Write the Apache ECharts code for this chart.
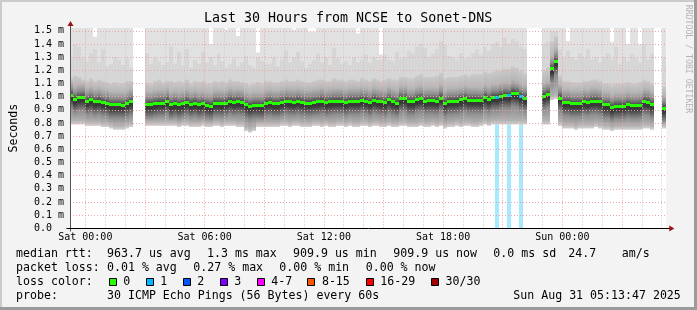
<!DOCTYPE html>
<html><head><meta charset="utf-8">
<script src="https://cdn.jsdelivr.net/npm/echarts@6/dist/echarts.min.js"></script>
<style>html,body{margin:0;padding:0;background:#f3f3f3;}#c{width:697px;height:310px;}</style>
</head><body><div id="c"></div>
<script>
// ---- data (hours relative to Sat 00:00; 12-minute buckets) ----
const FIRST_HOUR = -0.8, STEP_HOUR = 0.2;
const X_MIN = -0.7705, X_MAX = 29.2295, Y_MAX = 1.522;

const median = [
1.011,0.980,0.992,0.995,0.965,0.975,0.960,0.967,0.955,0.950,
0.937,0.937,0.937,0.935,0.945,0.960,null,null,null,0.940,
0.940,0.947,0.952,0.952,0.965,0.937,0.947,0.937,0.945,0.957,
0.942,0.950,0.939,0.945,0.935,0.929,0.950,0.950,0.947,0.952,
0.965,0.957,0.962,0.957,0.937,0.927,0.935,0.935,0.932,0.952,
0.955,0.947,0.947,0.957,0.965,0.960,0.957,0.965,0.957,0.952,
0.952,0.957,0.960,0.967,0.955,0.960,0.965,0.965,0.965,0.955,
0.965,0.965,0.965,0.973,0.967,0.955,0.973,0.965,0.960,0.955,
0.975,0.960,0.952,0.983,0.983,0.962,0.962,0.978,0.983,0.967,
0.970,0.970,0.967,0.990,0.950,0.965,0.965,0.967,0.975,0.983,
0.973,0.973,0.973,0.970,0.992,0.978,0.995,0.995,1.005,1.011,
1.008,1.028,1.021,1.000,0.988,null,null,null,null,1.005,
1.018,1.211,1.266,0.990,0.955,0.955,0.947,0.947,0.947,0.960,
0.955,0.965,0.967,0.960,0.937,0.937,0.917,0.929,0.929,0.929,
0.939,0.932,0.932,0.935,0.962,0.957,0.939,null,null,0.912];

// highest ping per bucket (1.6 = above the visible range)
const smokeMax = [
1.6,1.6,1.6,1.6,1.6,1.6,1.456,1.6,1.6,1.6,
1.6,1.6,1.6,1.6,1.6,1.6,null,null,null,1.6,
1.6,1.6,1.6,1.6,1.6,1.6,1.6,1.6,1.6,1.6,
1.6,1.6,1.6,1.6,1.6,1.40,1.6,1.6,1.6,1.51,
1.6,1.6,1.462,1.6,1.6,1.6,1.6,1.336,1.6,1.6,
1.6,1.6,1.6,1.6,1.6,1.6,1.51,1.6,1.6,1.6,
1.494,1.494,1.6,1.6,1.6,1.6,1.6,1.6,1.6,1.6,
1.6,1.6,1.48,1.6,1.6,1.6,1.6,1.6,1.32,1.6,
1.6,1.6,1.6,1.6,1.6,1.6,1.6,1.6,1.6,1.6,
1.6,1.6,1.6,1.6,1.6,1.6,1.6,1.6,1.6,1.6,
1.6,1.6,1.6,1.6,1.6,1.6,1.6,1.6,1.6,1.6,
1.6,1.6,1.6,1.6,1.6,null,null,null,null,1.6,
1.6,1.6,1.6,1.6,1.6,1.423,1.6,1.6,1.6,1.6,
1.6,1.6,1.6,1.6,1.6,1.6,1.418,1.6,1.6,1.6,
1.40,1.6,1.6,1.40,1.6,1.6,1.6,null,null,1.6];

// upper edge of the second-lightest smoke band
const smokeHi2 = [
1.30,1.40,1.38,1.30,1.27,1.33,1.36,1.26,1.36,1.23,
1.25,1.30,1.28,1.24,1.29,1.22,null,null,null,1.33,
1.25,1.30,1.27,1.24,1.26,1.38,1.25,1.34,1.24,1.36,
1.22,1.28,1.25,1.34,1.26,1.30,1.24,1.33,1.27,1.22,
1.25,1.29,1.23,1.26,1.31,1.24,1.22,1.30,1.27,1.25,
1.25,1.30,1.23,1.28,1.35,1.26,1.30,1.34,1.27,1.22,
1.25,1.28,1.33,1.26,1.30,1.24,1.37,1.29,1.25,1.27,
1.24,1.30,1.26,1.28,1.32,1.26,1.30,1.28,1.28,1.32,
1.28,1.27,1.34,1.29,1.30,1.35,1.33,1.38,1.40,1.37,
1.30,1.33,1.36,1.42,1.39,1.31,1.30,1.28,1.33,1.29,
1.30,1.33,1.36,1.32,1.38,1.35,1.40,1.42,1.38,1.45,
1.40,1.44,1.42,1.38,1.36,null,null,null,null,1.40,
1.42,1.50,1.50,1.36,1.30,1.35,1.30,1.28,1.33,1.30,
1.36,1.28,1.30,1.26,1.30,1.33,1.28,1.38,1.25,1.30,
1.27,1.32,1.29,1.26,1.40,1.28,1.33,null,null,1.30];

// upper edge of the dense (graded) smoke
const smokeHi1 = [
1.14,1.16,1.15,1.13,1.12,1.14,1.12,1.13,1.12,1.11,
1.10,1.11,1.10,1.10,1.12,1.12,null,null,null,1.11,
1.10,1.12,1.13,1.11,1.12,1.12,1.11,1.12,1.11,1.13,
1.10,1.12,1.11,1.12,1.10,1.10,1.12,1.11,1.12,1.11,
1.13,1.12,1.12,1.11,1.10,1.09,1.10,1.11,1.10,1.12,
1.12,1.11,1.11,1.12,1.13,1.12,1.12,1.13,1.12,1.11,
1.11,1.12,1.13,1.13,1.12,1.12,1.14,1.13,1.13,1.12,
1.13,1.13,1.12,1.14,1.13,1.12,1.14,1.13,1.12,1.13,
1.14,1.13,1.13,1.15,1.15,1.14,1.14,1.16,1.17,1.15,
1.15,1.15,1.16,1.18,1.14,1.15,1.15,1.15,1.16,1.17,
1.16,1.17,1.17,1.17,1.19,1.18,1.19,1.20,1.20,1.21,
1.21,1.23,1.22,1.20,1.18,null,null,null,null,1.20,
1.22,1.42,1.46,1.16,1.12,1.12,1.11,1.11,1.11,1.12,
1.12,1.13,1.13,1.12,1.10,1.10,1.09,1.10,1.10,1.10,
1.11,1.10,1.10,1.11,1.13,1.12,1.10,null,null,1.08];

// lowest ping per bucket
const smokeMin = [
0.79,0.79,0.79,0.79,0.78,0.78,0.78,0.78,0.77,0.77,
0.76,0.75,0.75,0.75,0.76,0.77,null,null,null,0.78,
0.78,0.78,0.78,0.78,0.78,0.78,0.78,0.77,0.78,0.78,
0.77,0.77,0.77,0.78,0.77,0.77,0.78,0.78,0.77,0.78,
0.78,0.78,0.77,0.77,0.74,0.73,0.74,0.77,0.77,0.77,
0.77,0.77,0.77,0.78,0.78,0.77,0.78,0.78,0.77,0.77,
0.77,0.78,0.78,0.77,0.78,0.77,0.77,0.78,0.78,0.77,
0.78,0.77,0.77,0.78,0.78,0.77,0.78,0.78,0.77,0.77,
0.78,0.77,0.77,0.78,0.78,0.77,0.77,0.77,0.78,0.77,
0.77,0.78,0.77,0.78,0.76,0.77,0.77,0.78,0.77,0.78,
0.78,0.77,0.77,0.78,0.79,0.78,0.79,0.79,0.79,0.79,
0.79,0.79,0.79,0.79,0.79,null,null,null,null,0.79,
0.79,0.975,0.985,0.78,0.76,0.76,0.76,0.75,0.76,0.76,
0.76,0.76,0.77,0.76,0.75,0.75,0.74,0.75,0.75,0.75,
0.75,0.75,0.75,0.75,0.76,0.76,0.75,null,null,0.76];

const lossBuckets = [107, 110, 113];
const lossCounts = [1, 1, 1];
const LOSS_BAR_TOP = 0.8;

const yTicks = [0,0.1,0.2,0.3,0.4,0.5,0.6,0.7,0.8,0.9,1.0,1.1,1.2,1.3,1.4,1.5];
const xLabelHours = [0,6,12,18,24];
const majorHours = [0,3,6,9,12,15,18,21,24,27];
const minorHours = [1,2,4,5,7,8,10,11,13,14,16,17,19,20,22,23,25,26,28,29];

const lossLegendLabels = ['0','1','2','3','4-7','8-15','16-29','30/30'];
const lossLegendColors = ['#26ff00','#00b8ff','#0059ff','#7e00ff','#ff00ff','#ff5500','#ff0000','#a00000'];
const lossBarColors = ['#c8ffbf','#a6eaff','#a6c8ff','#d5a6ff','#ffa6ff','#ffc8a6','#ffa6a6','#e3a6a6'];

const title = 'Last 30 Hours from NCSE to Sonet-DNS';
const legendLines = [
  [[16,'median rtt:'],[107,'963.7 us avg'],[207,'1.3 ms max'],[293,'909.9 us min'],[393.3,'909.9 us now'],[493.3,'0.0 ms sd'],[568.3,'24.7'],[621.7,'am/s']],
  [[16,'packet loss:'],[107,'0.01 % avg'],[193.3,'0.27 % max'],[279.3,'0.00 % min'],[365.7,'0.00 % now']],
  [[16,'loss color:']],
  [[16,'probe:'],[107,'30 ICMP Echo Pings (56 Bytes) every 60s'],[513.3,'Sun Aug 31 05:13:47 2025']]
];
const legendBoxX = [108.7,145.7,182.7,219.7,256.7,307.3,365.7,431];

// ---- rendering ----
const MONO = '"DejaVu Sans Mono", monospace';
const lossOf = {};
lossBuckets.forEach((b, k) => { lossOf[b] = lossCounts[k]; });
function lossClass(n){ if(!n) return 0; if(n<=3) return n; if(n<=7) return 4; if(n<=15) return 5; if(n<=29) return 6; return 7; }

const bucketData = [];
median.forEach((m, i) => { if (m != null) bucketData.push([FIRST_HOUR + STEP_HOUR * (i + 0.5), m, i]); });

function bucketX(api, i){
  const h0 = Math.max(FIRST_HOUR + STEP_HOUR * i, X_MIN);
  const h1 = Math.min(FIRST_HOUR + STEP_HOUR * (i + 1), X_MAX);
  const xa = Math.round(api.coord([h0, 0])[0]);
  const xb = Math.round(api.coord([h1, 0])[0]);
  return [xa, xb];
}

// shade stops relative to the median (style only)
const SMOKE_STOPS = [[0.10,'#b6b6b6'],[0.05,'#8e8e8e'],[0.02,'#5e5e5e'],[0,'#3c3c3c'],[-0.03,'#383838'],[-0.06,'#5e5e5e'],[-0.10,'#8e8e8e']];

function renderSmoke(params, api){
  const i = api.value(2);
  const [xa, xb] = bucketX(api, i);
  const w = xb - xa;
  const yOf = v => api.coord([0, Math.min(v, Y_MAX)])[1];
  const yLo = yOf(smokeMin[i]), yTop = yOf(smokeMax[i]), yH2 = yOf(smokeHi2[i]), yH1 = yOf(smokeHi1[i]);
  const m = median[i];
  const children = [];
  const loss = lossOf[i] || 0;
  if (loss) {
    const y0 = yOf(0), y1 = yOf(LOSS_BAR_TOP);
    children.push({type:'rect', shape:{x:xa, y:y1, width:w, height:y0 - y1}, style:{fill: lossBarColors[lossClass(loss)]}});
  }
  children.push({type:'rect', shape:{x:xa, y:yTop, width:w, height:yLo - yTop}, style:{fill:'#e1e1e1'}});
  children.push({type:'rect', shape:{x:xa, y:yH2, width:w, height:yLo - yH2}, style:{fill:'#d6d6d6'}});
  const span = yLo - yH1;
  const stops = [{offset:0, color:'#cacaca'}];
  SMOKE_STOPS.forEach(([d, c]) => {
    const o = (yOf(m + d) - yH1) / span;
    if (o > 0 && o < 1) stops.push({offset:o, color:c});
  });
  const oLo = (yOf(smokeMin[i] + 0.03) - yH1) / span;
  if (oLo > 0 && oLo < 1 && oLo > stops[stops.length - 1].offset) stops.push({offset:oLo, color:'#b2b2b2'});
  stops.push({offset:1, color:'#d2d2d2'});
  stops.sort((a, b) => a.offset - b.offset);
  children.push({type:'rect', shape:{x:xa, y:yH1, width:w, height:span},
    style:{fill: new echarts.graphic.LinearGradient(0,0,0,1,stops)}});
  return {type:'group', children};
}

function renderMedian(params, api){
  const i = api.value(2);
  const [xa, xb] = bucketX(api, i);
  const y = api.coord([0, median[i]])[1];
  const color = lossLegendColors[lossClass(lossOf[i] || 0)];
  return {type:'rect', shape:{x:xa, y:Math.round(y - 1.5), width:xb - xa, height:3}, style:{fill: color}};
}

const chart = echarts.init(document.getElementById('c'), null, {renderer:'canvas', width:697, height:310});
const fmtHour = h => (h < 24 ? 'Sat ' : 'Sun ') + String(h % 24).padStart(2, '0') + ':00';

chart.setOption({
  animation:false,
  backgroundColor:'#f3f3f3',
  grid:{left:66.3, right:30.7, top:28, bottom:81.7, show:true, backgroundColor:'#ffffff', borderWidth:0},
  xAxis:{type:'value', min:X_MIN, max:X_MAX,
    axisLine:{show:false}, axisTick:{show:false}, splitLine:{show:false},
    axisLabel:{customValues:xLabelHours, formatter:fmtHour, margin:4, color:'#000', fontFamily:MONO, fontSize:10}},
  yAxis:{type:'value', min:0, max:Y_MAX,
    axisLine:{show:false}, axisTick:{show:false}, splitLine:{show:false},
    axisLabel:{customValues:yTicks, formatter:v => v === 0 ? '0.0' : v.toFixed(1) + ' m', align:'left', margin:36, color:'#000', fontFamily:MONO, fontSize:10},
    name:'Seconds', nameLocation:'middle', nameGap:50, nameRotate:90,
    nameTextStyle:{color:'#000', fontFamily:MONO, fontSize:11.6}},
  series:[
    {type:'custom', name:'smoke', z:2, clip:true, renderItem:renderSmoke, data:bucketData, silent:true},
    {type:'line', name:'minor', z:3, data:[], silent:true,
      markLine:{silent:true, symbol:['none','none'], label:{show:false}, animation:false,
        lineStyle:{color:'#c8c8c8', type:[1,2], width:1},
        data: minorHours.map(h => ({xAxis:h}))}},
    {type:'line', name:'major', z:3, data:[], silent:true,
      markLine:{silent:true, symbol:['none','none'], label:{show:false}, animation:false,
        lineStyle:{color:'#eaa4a4', type:[1,2], width:1},
        data: majorHours.map(h => ({xAxis:h})).concat(yTicks.filter(v => v > 0).map(v => ({yAxis:v})))}},
    {type:'custom', name:'median', z:4, clip:true, renderItem:renderMedian, data:bucketData, silent:true}
  ]
});

const o = chart.convertToPixel({gridIndex:0}, [X_MIN, 0]);
const r = chart.convertToPixel({gridIndex:0}, [X_MAX, 0]);
const t = chart.convertToPixel({gridIndex:0}, [X_MIN, Y_MAX]);
const ax = Math.round(o[0]) + 0.5, ay = Math.round(o[1]) + 0.5;

const g = [];
// frame
g.push({type:'rect', shape:{x:0,y:0,width:697,height:2}, style:{fill:'#cbcbcb'}, z:100});
g.push({type:'rect', shape:{x:0,y:0,width:2,height:310}, style:{fill:'#cbcbcb'}, z:100});
g.push({type:'rect', shape:{x:694,y:0,width:3,height:310}, style:{fill:'#9b9b9b'}, z:100});
g.push({type:'rect', shape:{x:0,y:307,width:697,height:3}, style:{fill:'#9b9b9b'}, z:100});
// axes
g.push({type:'line', shape:{x1:ax, y1:ay + 3, x2:ax, y2:t[1] - 5}, style:{stroke:'#555', lineWidth:1}, z:50});
g.push({type:'line', shape:{x1:ax - 4, y1:ay, x2:r[0] + 4, y2:ay}, style:{stroke:'#000', lineWidth:1}, z:50});
g.push({type:'polygon', shape:{points:[[r[0] + 3, ay - 3],[r[0] + 8, ay],[r[0] + 3, ay + 3]]}, style:{fill:'#a01010'}, z:51});
g.push({type:'polygon', shape:{points:[[ax - 3, t[1] - 2],[ax, t[1] - 7],[ax + 3, t[1] - 2]]}, style:{fill:'#a01010'}, z:51});
// title
g.push({type:'text', x:204, y:19, style:{text:title, font:'13.3px ' + MONO, fill:'#000', verticalAlign:'middle'}, z:60});
// watermark
g.push({type:'text', x:688, y:59, rotation:-Math.PI/2, style:{text:'RRDTOOL / TOBI OETIKER', font:'8.2px ' + MONO, fill:'#b4b4b4', align:'center', verticalAlign:'middle'}, z:60});
// legend lines
const lineY = [254.3, 268.3, 282, 295.7];
legendLines.forEach((items, li) => {
  items.forEach(([x, s]) => g.push({type:'text', x:x, y:lineY[li], style:{text:s, font:'11.6px ' + MONO, fill:'#000', verticalAlign:'middle'}, z:60}));
});
legendBoxX.forEach((x, k) => {
  g.push({type:'rect', shape:{x:Math.round(x) + 0.5, y:278.5, width:7, height:7}, style:{fill:lossLegendColors[k], stroke:'#000', lineWidth:1}, z:60});
  g.push({type:'text', x:x + 14.6, y:lineY[2], style:{text:lossLegendLabels[k], font:'11.6px ' + MONO, fill:'#000', verticalAlign:'middle'}, z:60});
});
chart.setOption({graphic:g});
</script></body></html>
